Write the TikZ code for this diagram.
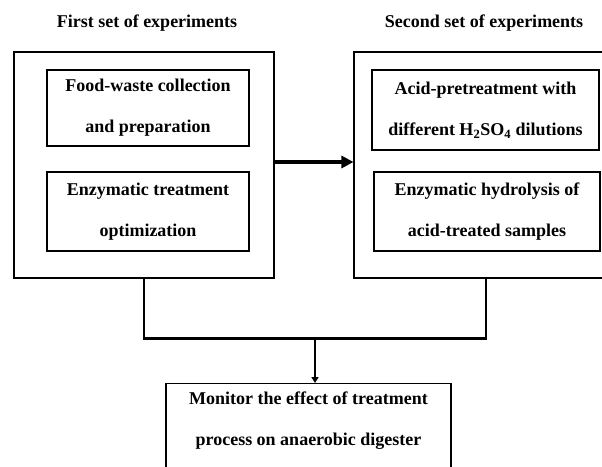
\documentclass[tikz,border=0pt]{standalone}
\usepackage{fontspec}
\setmainfont{Liberation Serif}
\usetikzlibrary{calc,positioning}
\usetikzlibrary{arrows.meta}
\tikzset{>={Triangle[width=12pt,length=12pt]}}

\begin{document}
\begin{tikzpicture}[
    x=1pt, y=-1pt,
    box/.style={
        draw,
        line width=1.1pt,
        inner sep=0pt
    },
    boxtext/.style={
        align=center,
        font=\bfseries\fontsize{18}{41}\selectfont
    },
    title/.style={
        font=\bfseries\fontsize{18}{22}\selectfont
    },
    link/.style={
        line width=2.2pt
    }
]

\useasboundingbox (0,0) rectangle (602,466);
\clip (0,0) rectangle (602,466);

% first set of experiments
\node[title] (firsttitle) at (147,23) {First set of experiments};
\node[box, minimum width=260, minimum height=226] (first) at (144,165) {};
\node[box, boxtext, minimum width=202, minimum height=76] (food) at (148,108) {Food-waste collection\\and preparation};
\node[box, boxtext, minimum width=202, minimum height=79] (enzyme) at (148,211.5) {Enzymatic treatment\\optimization};

% second set of experiments
\node[title] (secondtitle) at (484,23) {Second set of experiments};
\node[box, minimum width=264, minimum height=226] (second) at (486,165) {};
\node[box, boxtext, minimum width=227, minimum height=80] (acid) at (485.5,110) {Acid-pretreatment with\\different H\textsubscript{2}SO\textsubscript{4} dilutions};
\node[box, boxtext, minimum width=226, minimum height=79] (hydro) at (487,211.5) {Enzymatic hydrolysis of\\acid-treated samples};

% anaerobic digester
\node[box, minimum width=285, minimum height=120, anchor=north] (monitor) at (308.5,383) {};
\node[boxtext] (monitortext) at (308.5,421) {Monitor the effect of treatment\\process on anaerobic digester};

\draw[->, line width=3.8pt] ([yshift=3pt]first.east) -- ([yshift=3pt]second.west);

\coordinate (join) at ($(first.south)!0.5!(second.south)+(0,60)$);
\draw[link] (first.south) |- (join) -| (second.south);
\draw[link, -{Triangle[width=7pt,length=6pt]}] (join) -- (join |- monitor.north);

\end{tikzpicture}
\end{document}
